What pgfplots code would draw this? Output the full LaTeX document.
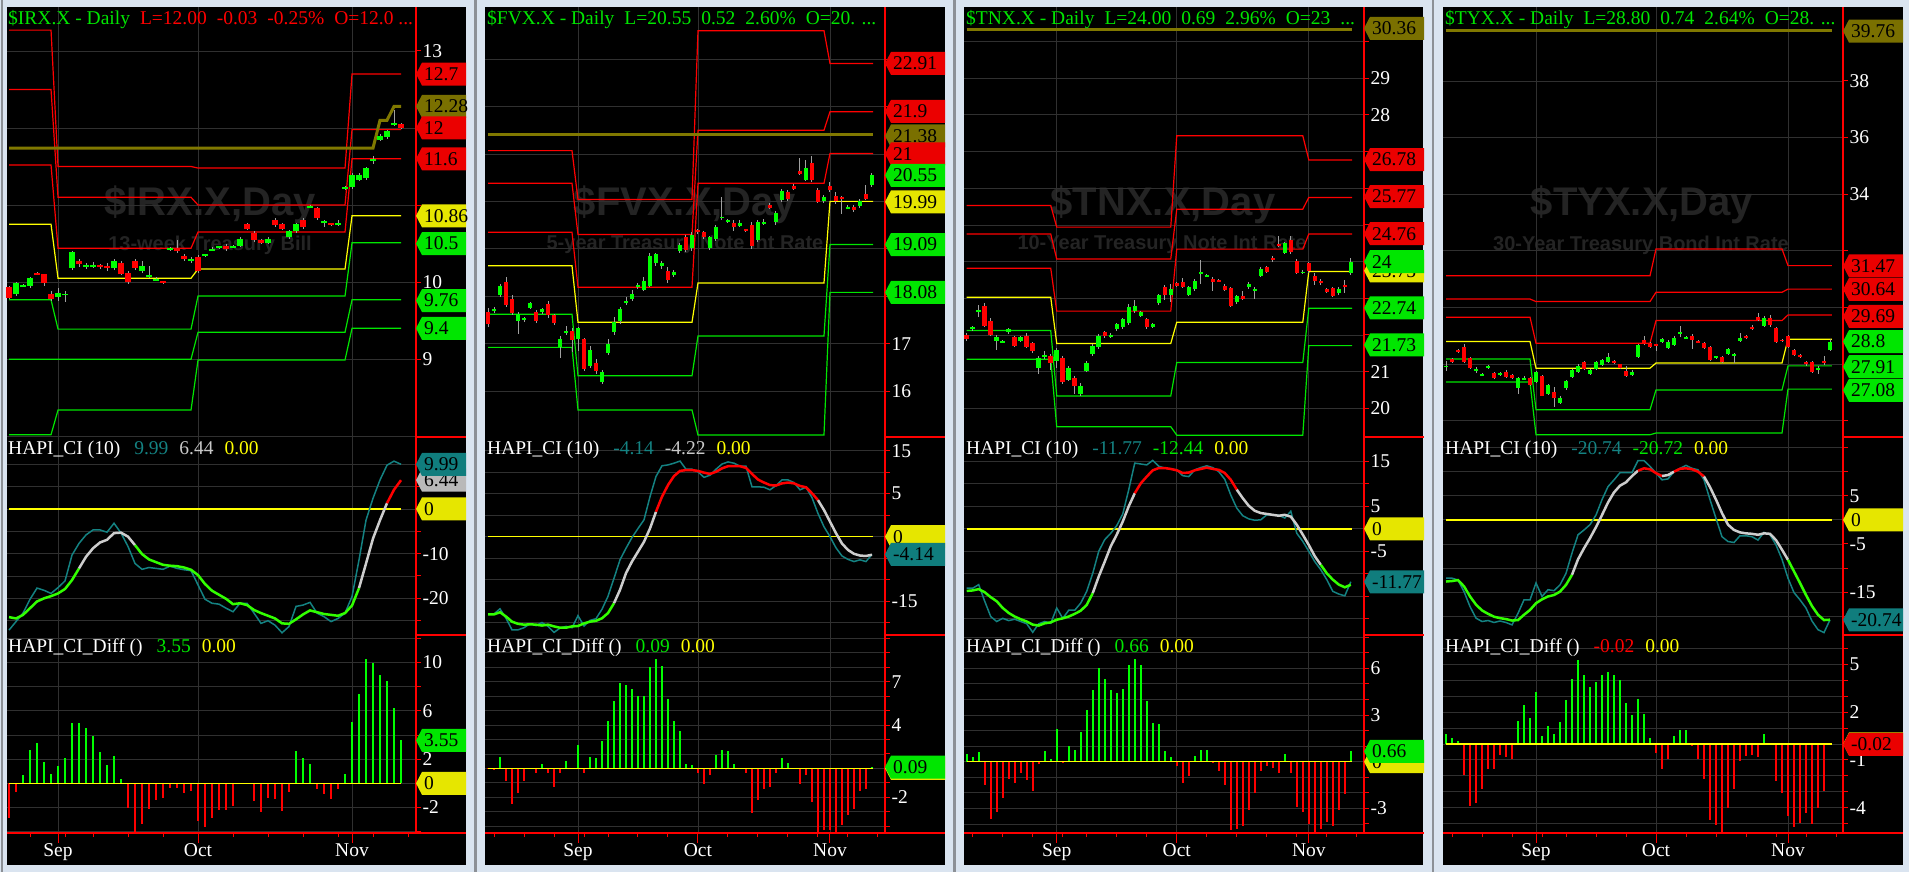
\documentclass[border=0pt]{standalone}
\usepackage{pgfplots}
\pgfplotsset{compat=1.18}
\usepackage{pgfplotstable}
\usepackage{fontspec}
\setmainfont{Liberation Serif}
\setsansfont{Liberation Sans}
\newcommand{\lab}{\fontsize{19.5bp}{22bp}\selectfont}
\newcommand{\wmA}{\fontsize{40bp}{44bp}\selectfont\sffamily\bfseries}
\newcommand{\wmB}{\fontsize{20bp}{24bp}\selectfont\sffamily\bfseries}
\definecolor{bgc}{RGB}{218,228,240}
\definecolor{sepc}{RGB}{140,144,150}
\definecolor{tred}{RGB}{255,0,0}
\definecolor{tgreen}{RGB}{0,230,0}
\definecolor{cgreen}{RGB}{0,255,0}
\definecolor{tyellow}{RGB}{255,255,0}
\definecolor{tolive}{RGB}{128,120,0}
\definecolor{tteal}{RGB}{20,130,130}
\definecolor{lgray}{RGB}{200,200,200}
\definecolor{gridc}{RGB}{48,48,48}
\definecolor{wmc}{RGB}{36,36,36}
\definecolor{wick}{RGB}{160,160,160}
\definecolor{tagred}{RGB}{235,0,0}
\definecolor{taggreen}{RGB}{0,230,0}
\definecolor{tagyellow}{RGB}{230,230,0}
\definecolor{tagolive}{RGB}{122,112,0}
\definecolor{tagteal}{RGB}{16,125,125}
\definecolor{taggray}{RGB}{185,185,185}
\definecolor{hgreen}{RGB}{50,255,0}
\definecolor{hgray}{RGB}{205,205,205}
\def\tw{44bp}\def\sw{50bp}
\newcommand{\ptag}[4]{%
 \fill[#3] (axis cs:#1,#2) -- ++(6bp,11.5bp) -- ++(\tw,0pt) -- ++(0pt,-23bp) -- ++(-\tw,0pt) -- cycle;
 \node[anchor=west,inner sep=0pt,text=black,font=\lab] at ([xshift=8bp]axis cs:#1,#2) {#4};}
\newcommand{\rline}{\draw[tred,line width=1.2bp] (rel axis cs:1,0) -- (rel axis cs:1,1);}
\pgfplotsset{
 hb/.style={scale only axis, anchor=south west, axis line style={draw=none}, tick align=outside,
   ytick pos=right, yticklabel pos=right, ymajorgrids=true, xmajorgrids=true,
   major grid style={draw=gridc, line width=0.8bp}, major tick length=5bp, minor tick length=4bp,
   tick style={draw=tred, line width=1bp},
   yticklabel style={font=\lab, text=white, inner sep=1.5bp}, clip=false},
 up/.style={xticklabels={}, major x tick style={draw=none}},
 dn/.style={xticklabels={Sep,Oct,Nov}, xtick pos=left, xticklabel style={font=\lab, text=white, yshift=-2bp}},
 pA/.style={xmin=-0.29, xmax=58.14, width=409bp, xtick={7,27,49}},
 pB/.style={xmin=-0.5, xmax=66.17, width=400bp, xtick={15,35,57}},
 pC/.style={xmin=-0.45, xmax=66.2, width=400bp, xtick={15,35,57}},
 wk/.style={draw=none, mark=none, error bars/.cd, y dir=both, y explicit, error mark=none, error bar style={draw=wick, line width=1bp}},
 bgn/.style={draw=none, mark=none, restrict expr to domain={\thisrow{c}-\thisrow{o}}{0:100}, error bars/.cd, y dir=both, y explicit, error mark=none, error bar style={draw=cgreen, line width=#1}},
 brd/.style={draw=none, mark=none, restrict expr to domain={\thisrow{c}-\thisrow{o}}{-100:0}, error bars/.cd, y dir=both, y explicit, error mark=none, error bar style={draw=tred, line width=#1}},
 band/.style={line width=1.2bp, #1},
 sm/.style={line width=2.5bp, #1},
}
% ---------------- data ----------------
\pgfplotstableread{
x o c h l
0 9.93 9.80 9.95 9.78
1 9.84 9.99 10.00 9.82
2 9.94 9.96 9.98 9.93
3 9.95 10.05 10.06 9.92
4 10.12 10.10 10.13 10.09
5 10.10 9.99 10.11 9.95
6 9.84 9.78 9.88 9.76
7 9.81 9.86 9.92 9.75
8 9.83 9.85 9.88 9.74
9 10.18 10.39 10.40 10.16
10 10.28 10.23 10.30 10.20
11 10.19 10.22 10.25 10.17
12 10.20 10.22 10.26 10.18
13 10.22 10.19 10.24 10.17
14 10.21 10.18 10.25 10.15
15 10.18 10.28 10.30 10.16
16 10.25 10.11 10.27 10.09
17 10.12 10.00 10.14 9.98
18 10.28 10.18 10.30 10.16
19 10.15 10.21 10.28 10.12
20 10.07 10.09 10.21 10.05
21 10.02 10.04 10.06 10.01
22 10.01 9.99 10.02 9.98
23 10.42 10.44 10.46 10.40
24 10.44 10.40 10.55 10.38
25 10.34 10.30 10.36 10.28
26 10.28 10.30 10.32 10.25
27 10.33 10.14 10.35 10.12
28 10.34 10.36 10.37 10.33
29 10.41 10.43 10.45 10.40
30 10.44 10.46 10.47 10.43
31 10.47 10.43 10.49 10.41
32 10.45 10.47 10.48 10.44
33 10.47 10.56 10.58 10.45
34 10.75 10.69 10.77 10.67
35 10.64 10.54 10.66 10.52
36 10.54 10.51 10.56 10.49
37 10.51 10.56 10.58 10.49
38 10.81 10.74 10.83 10.72
39 10.75 10.69 10.77 10.67
40 10.58 10.66 10.68 10.56
41 10.66 10.75 10.77 10.64
42 10.81 10.71 10.83 10.69
43 10.97 10.99 11.00 10.96
44 10.96 10.83 10.98 10.81
45 10.77 10.79 10.81 10.72
46 10.76 10.74 10.77 10.73
47 10.74 10.76 10.80 10.73
48 11.21 11.23 11.25 11.19
49 11.23 11.39 11.41 11.21
50 11.33 11.39 11.41 11.31
51 11.35 11.48 11.50 11.33
52 11.58 11.60 11.64 11.53
53 11.85 11.90 11.92 11.83
54 11.88 11.96 11.98 11.86
55 12.04 12.06 12.23 12.02
56 12.05 12.00 12.07 11.99
}\cA
\pgfplotstableread{
x o c h l
0 17.67 17.41 17.75 17.35
1 17.70 17.72 17.78 17.65
2 18.02 18.21 18.25 17.98
3 18.30 17.81 18.40 17.78
4 17.95 17.64 18.02 17.60
5 17.47 17.62 17.66 17.20
6 17.50 17.52 17.56 17.45
7 17.76 17.85 17.88 17.72
8 17.67 17.47 17.71 17.43
9 17.67 17.72 17.76 17.63
10 17.83 17.60 17.90 17.55
11 17.60 17.43 17.63 17.40
12 16.93 17.09 17.16 16.70
13 17.23 17.25 17.38 17.18
14 17.27 17.07 17.32 16.83
15 17.09 17.32 17.36 16.85
16 17.09 16.46 17.12 16.42
17 16.53 16.86 16.95 16.49
18 16.60 16.43 16.68 16.35
19 16.19 16.41 16.45 16.15
20 16.81 17.00 17.10 16.76
21 17.24 17.46 17.56 17.18
22 17.47 17.74 17.78 17.42
23 17.86 17.88 17.98 17.82
24 17.95 18.04 18.13 17.90
25 18.20 18.22 18.28 18.16
26 18.14 18.32 18.40 18.10
27 18.22 18.85 18.92 18.20
28 18.69 18.88 18.92 18.64
29 18.63 18.70 18.74 18.58
30 18.54 18.35 18.62 18.28
31 18.45 18.52 18.56 18.40
32 18.96 19.09 19.13 18.92
33 19.24 18.97 19.30 18.93
34 19.01 19.29 19.35 18.96
35 19.39 19.35 19.42 19.31
36 19.35 19.24 19.38 19.20
37 19.01 19.25 19.28 18.97
38 19.20 19.46 19.50 19.16
39 19.64 19.68 20.10 19.60
40 19.57 19.59 19.62 19.54
41 19.54 19.45 19.60 19.38
42 19.49 19.55 19.60 19.45
43 19.40 19.38 19.42 19.35
44 19.50 19.06 19.56 19.00
45 19.18 19.56 19.60 19.14
46 19.54 19.56 19.62 19.50
47 19.92 19.87 19.96 19.84
48 19.57 19.75 19.80 19.50
49 20.03 20.22 20.26 19.98
50 20.20 20.05 20.24 20.00
51 20.32 20.27 20.36 20.24
52 20.65 20.58 20.92 20.55
53 20.46 20.70 20.88 20.42
54 20.80 20.45 20.96 20.40
55 20.25 19.99 20.28 19.96
56 20.00 20.10 20.13 19.97
57 20.33 20.24 20.40 20.20
58 20.12 20.00 20.20 19.95
59 20.08 20.06 20.12 19.74
60 19.86 19.88 19.92 19.83
61 19.88 19.82 19.92 19.78
62 19.90 20.00 20.04 19.86
63 20.15 20.05 20.35 20.02
64 20.34 20.55 20.60 20.31
}\cB
\pgfplotstableread{
x o c h l
0 22.00 21.88 22.06 21.84
1 22.17 22.19 22.25 22.12
2 22.64 22.66 22.82 22.48
3 22.79 22.25 22.88 22.22
4 22.39 22.00 22.45 21.96
5 21.84 21.94 22.00 21.60
6 21.81 21.83 21.87 21.78
7 22.07 22.15 22.18 22.03
8 21.95 21.71 21.98 21.68
9 21.84 21.94 21.97 21.80
10 21.97 21.68 22.05 21.64
11 21.77 21.57 21.80 21.52
12 21.11 21.36 21.42 20.95
13 21.41 21.43 21.56 21.35
14 21.43 21.23 21.47 21.05
15 21.29 21.59 21.65 21.10
16 21.38 20.71 21.42 20.66
17 20.77 21.09 21.15 20.74
18 20.83 20.62 20.88 20.38
19 20.38 20.62 20.70 20.35
20 21.03 21.25 21.30 20.98
21 21.47 21.71 21.76 21.42
22 21.66 21.97 22.03 21.62
23 22.07 21.97 22.12 21.93
24 21.95 22.01 22.05 21.91
25 22.16 22.30 22.34 22.12
26 22.21 22.43 22.47 22.16
27 22.33 22.77 22.85 22.28
28 22.65 22.79 22.95 22.60
29 22.53 22.62 22.66 22.49
30 22.43 22.21 22.47 22.15
31 22.23 22.30 22.34 22.18
32 22.86 23.09 23.13 22.82
33 23.30 23.09 23.36 22.95
34 23.09 23.26 23.40 22.90
35 23.41 23.34 23.45 23.30
36 23.45 23.32 23.55 23.28
37 23.09 23.30 23.34 23.05
38 23.25 23.48 23.52 23.20
39 23.67 23.69 24.05 23.40
40 23.60 23.62 23.65 23.57
41 23.53 23.44 23.58 23.20
42 23.49 23.47 23.52 23.44
43 23.34 23.23 23.38 23.19
44 23.27 22.80 23.30 22.76
45 22.89 23.07 23.10 22.85
46 23.07 22.98 23.20 22.95
47 23.30 23.39 23.45 23.26
48 23.21 23.23 23.30 22.98
49 23.62 23.80 23.84 23.58
50 23.84 23.73 23.88 23.68
51 24.08 24.06 24.15 24.00
52 24.46 24.44 24.70 24.40
53 24.23 24.50 24.54 24.20
54 24.59 24.25 24.70 24.20
55 24.03 23.68 24.07 23.65
56 23.68 23.73 23.77 23.65
57 23.95 23.75 24.00 23.70
58 23.62 23.47 23.68 23.35
59 23.48 23.41 23.52 23.37
60 23.25 23.18 23.28 23.15
61 23.27 23.07 23.30 23.04
62 23.14 23.26 23.30 23.10
63 23.35 23.33 23.50 23.15
64 23.68 24.00 24.10 23.64
}\cC
\pgfplotstableread{
x o c h l
0 27.91 27.93 28.10 27.75
1 28.18 28.07 28.22 28.03
2 28.51 28.43 28.55 28.40
3 28.62 28.09 28.72 28.05
4 28.21 27.86 28.25 27.82
5 27.79 27.81 27.90 27.70
6 27.62 27.64 27.68 27.58
7 27.86 27.92 27.96 27.82
8 27.70 27.51 27.74 27.47
9 27.62 27.70 27.74 27.58
10 27.74 27.55 27.78 27.51
11 27.63 27.51 27.66 27.48
12 27.15 27.51 27.55 26.95
13 27.48 27.50 27.60 27.44
14 27.53 27.27 27.56 27.23
15 27.37 27.72 27.75 27.33
16 27.60 26.89 27.63 26.86
17 26.94 27.25 27.30 26.91
18 27.01 26.80 27.18 26.50
19 26.62 26.82 26.86 26.58
20 27.15 27.39 27.45 27.10
21 27.54 27.78 27.82 27.50
22 27.72 27.95 27.99 27.68
23 28.07 27.83 28.11 27.79
24 27.67 27.78 27.82 27.63
25 27.83 28.07 28.11 27.80
26 27.98 28.15 28.19 27.94
27 28.09 28.25 28.40 28.05
28 28.12 28.04 28.16 28.00
29 27.99 27.86 28.02 27.82
30 27.76 27.60 27.92 27.56
31 27.62 27.74 27.78 27.58
32 28.27 28.68 28.72 28.23
33 28.86 28.72 29.00 28.68
34 28.74 28.60 28.78 28.56
35 28.69 28.67 28.72 28.45
36 28.78 28.88 28.92 28.74
37 28.56 28.80 28.84 28.52
38 28.68 28.94 28.98 28.64
39 29.09 29.11 29.35 28.95
40 28.93 28.95 28.98 28.90
41 28.99 28.86 29.05 28.55
42 28.81 28.79 28.84 28.76
43 28.74 28.56 28.78 28.52
44 28.60 28.15 28.64 28.11
45 28.24 28.26 28.30 28.20
46 28.25 28.07 28.28 28.03
47 28.37 28.53 28.56 28.33
48 28.32 28.34 28.40 28.05
49 28.83 28.94 29.10 28.80
50 29.00 28.92 29.04 28.88
51 29.28 29.26 29.40 29.20
52 29.65 29.56 29.80 29.53
53 29.34 29.63 29.70 29.30
54 29.63 29.37 29.75 29.30
55 29.27 28.80 29.31 28.76
56 28.85 28.83 28.88 28.80
57 28.98 28.62 29.02 28.58
58 28.51 28.33 28.55 28.30
59 28.33 28.25 28.36 28.22
60 28.09 27.99 28.12 27.95
61 28.07 27.72 28.10 27.68
62 27.78 27.88 27.92 27.65
63 28.10 28.08 28.30 27.98
64 28.51 28.80 28.88 28.47
}\cD
\pgfplotstableread{
x t s d
0 -27.1 -24.2 -2.9
1 -25.2 -24.5 -0.7
2 -23.3 -23.7 0.7
3 -20.2 -22.2 2.8
4 -17.7 -20.7 3.3
5 -18.2 -20.0 1.8
6 -18.9 -19.5 0.8
7 -17.6 -18.9 1.4
8 -16.1 -17.9 2.1
9 -10.3 -15.9 5.0
10 -7.7 -13.3 5.0
11 -5.8 -10.7 4.6
12 -4.7 -8.8 3.9
13 -4.7 -7.5 2.6
14 -5.2 -6.9 1.5
15 -3.2 -5.4 2.3
16 -5.4 -5.3 0.4
17 -8.4 -6.2 -2.0
18 -12.2 -8.1 -4.0
19 -13.5 -10.1 -3.4
20 -13.1 -11.3 -2.1
21 -13.3 -11.9 -1.4
22 -13.5 -12.5 -1.2
23 -12.8 -12.7 -0.4
24 -13.3 -12.8 -0.4
25 -13.6 -13.1 -0.8
26 -13.8 -13.6 -0.6
27 -17.0 -14.8 -3.1
28 -20.2 -16.8 -3.6
29 -21.1 -18.3 -2.9
30 -21.3 -19.2 -2.2
31 -22.2 -20.1 -2.2
32 -23.0 -21.3 -1.9
33 -21.1 -21.1 0.05
34 -21.1 -21.5 0.05
35 -23.3 -22.6 -1.5
36 -25.6 -23.3 -2.4
37 -25.0 -23.9 -1.2
38 -26.0 -24.5 -1.3
39 -27.7 -25.6 -2.3
40 -26.3 -25.7 -0.7
41 -21.8 -24.7 2.7
42 -21.5 -23.6 2.1
43 -20.9 -22.7 1.6
44 -23.3 -23.1 -0.5
45 -24.1 -23.5 -0.9
46 -25.2 -23.7 -1.3
47 -24.5 -23.9 -0.5
48 -23.3 -23.3 0.8
49 -19.6 -21.6 5.1
50 -11.4 -17.7 7.4
51 -2.5 -12.2 10.3
52 2.4 -6.6 10.0
53 6.5 -2.5 9.0
54 9.8 1.3 8.5
55 10.7 4.3 6.2
56 9.99 6.44 3.55
}\hA
\pgfplotstableread{
x t s d
0 -18.0 -18.1 -0.05
1 -18.0 -18.1 -0.1
2 -16.8 -17.6 0.8
3 -19.0 -18.6 -0.85
4 -21.7 -19.8 -2.5
5 -21.7 -20.3 -1.7
6 -21.2 -20.5 -0.85
7 -20.3 -20.4 0.05
8 -20.7 -20.5 -0.3
9 -20.0 -20.7 0.3
10 -20.9 -20.5 -0.3
11 -22.3 -20.9 -1.3
12 -21.3 -21.2 -0.3
13 -20.9 -21.2 0.5
14 -21.2 -20.9 -0.05
15 -18.4 -20.8 1.6
16 -20.8 -20.2 -0.35
17 -19.5 -19.8 0.8
18 -19.1 -19.6 0.75
19 -16.9 -19.0 1.9
20 -13.9 -17.8 3.3
21 -9.7 -15.5 4.7
22 -5.4 -12.4 5.9
23 -2.7 -8.5 5.8
24 -0.2 -5.8 5.5
25 1.9 -3.5 5.0
26 3.9 -1.2 5.0
27 9.3 1.9 7.0
28 14.0 5.8 7.6
29 16.5 9.3 7.1
30 16.7 12.0 4.8
31 17.1 14.1 3.3
32 17.6 15.3 2.6
33 15.7 15.5 0.3
34 15.7 15.5 0.2
35 15.1 15.3 -0.3
36 13.8 14.9 -1.1
37 14.3 14.6 -0.45
38 15.7 15.1 0.9
39 16.9 15.9 1.3
40 17.4 16.4 1.2
41 17.1 16.4 0.3
42 16.4 16.4 0.05
43 16.4 16.0 -0.35
44 11.6 14.6 -3.1
45 11.6 13.3 -2.2
46 11.5 12.6 -1.45
47 10.9 12.0 -1.3
48 11.9 11.9 -0.35
49 13.2 12.4 0.75
50 13.2 12.6 0.35
51 12.6 12.4 -0.05
52 10.9 11.8 -1.1
53 11.5 11.5 -0.45
54 9.1 10.1 -2.3
55 5.4 8.5 -4.4
56 2.3 6.2 -4.3
57 0.0 3.5 -4.3
58 -2.6 0.8 -4.4
59 -4.5 -1.6 -3.9
60 -5.3 -3.1 -3.2
61 -5.8 -4.0 -2.8
62 -5.4 -4.4 -1.6
63 -5.8 -4.5 -1.45
64 -4.14 -4.22 0.09
}\hB
\pgfplotstableread{
x t s d
0 -13.2 -13.8 0.5
1 -13.2 -13.7 0.3
2 -12.4 -13.4 0.6
3 -16.1 -14.1 -1.5
4 -19.5 -15.2 -3.7
5 -20.6 -16.1 -3.2
6 -19.9 -17.6 -2.3
7 -20.4 -18.7 -1.1
8 -20.1 -19.5 -1.4
9 -20.6 -20.1 -0.7
10 -21.1 -20.6 -1.2
11 -23.0 -21.3 -1.9
12 -21.1 -21.5 -0.15
13 -20.6 -21.0 0.7
14 -21.0 -20.8 0.15
15 -17.6 -20.2 2.1
16 -19.9 -19.9 -0.05
17 -18.1 -19.5 1.0
18 -18.1 -18.9 0.75
19 -16.5 -18.2 1.9
20 -13.9 -16.9 3.3
21 -9.9 -14.3 4.6
22 -5.0 -10.6 6.0
23 -2.4 -7.3 5.3
24 -1.0 -3.9 4.6
25 0.7 -1.3 4.4
26 3.3 1.6 4.7
27 8.7 5.0 6.2
28 14.6 7.9 6.6
29 14.4 10.1 6.2
30 14.2 11.6 3.9
31 15.2 13.0 2.5
32 13.9 13.5 2.4
33 13.5 13.5 0.7
34 13.3 13.3 0.3
35 13.1 13.0 -0.25
36 11.8 12.4 -1.35
37 11.6 12.5 -0.9
38 13.1 13.0 0.35
39 13.6 13.3 0.75
40 14.0 13.6 0.75
41 13.6 13.3 -0.05
42 12.7 13.1 -0.6
43 11.0 12.4 -1.5
44 7.5 10.9 -4.4
45 4.6 8.7 -4.3
46 2.9 6.8 -4.1
47 2.2 5.1 -3.1
48 1.9 4.0 -2.0
49 2.0 3.5 -0.6
50 3.1 3.3 -0.3
51 3.1 3.1 -0.4
52 3.0 2.9 -0.75
53 2.4 3.1 0.5
54 3.9 2.7 -0.7
55 -1.0 0.9 -2.9
56 -2.8 -1.3 -3.2
57 -5.0 -3.6 -4.0
58 -7.3 -6.1 -4.5
59 -9.1 -8.0 -4.3
60 -11.3 -9.9 -3.9
61 -13.9 -11.3 -4.1
62 -14.5 -12.4 -3.1
63 -14.9 -13.0 -2.1
64 -11.77 -12.44 0.66
}\hC
\pgfplotstableread{
x t s d
0 -12.1 -12.8 0.6
1 -12.1 -12.7 0.35
2 -12.5 -12.5 0.2
3 -14.9 -13.8 -1.95
4 -18.0 -15.9 -3.9
5 -20.4 -17.6 -3.7
6 -21.1 -18.8 -2.85
7 -20.9 -19.5 -1.6
8 -21.3 -20.1 -1.6
9 -21.0 -20.4 -0.7
10 -21.3 -20.6 -0.8
11 -21.8 -20.9 -0.95
12 -19.4 -20.8 1.45
13 -16.6 -19.7 2.45
14 -16.6 -18.7 1.65
15 -13.1 -17.3 3.25
16 -15.9 -16.5 0.5
17 -14.5 -15.9 1.1
18 -14.7 -15.6 0.6
19 -13.5 -14.9 1.35
20 -11.1 -13.5 2.75
21 -6.9 -11.4 4.1
22 -3.1 -8.2 5.3
23 -2.1 -5.9 4.3
24 -1.0 -3.8 3.6
25 1.0 -1.5 3.9
26 4.2 1.0 4.3
27 6.9 3.6 4.5
28 8.3 5.7 4.3
29 9.8 7.1 4.0
30 9.8 7.8 2.55
31 9.8 9.1 1.8
32 12.3 10.2 2.8
33 12.3 10.7 1.9
34 11.1 10.5 0.35
35 9.7 9.7 -0.55
36 8.3 9.1 -1.55
37 8.5 9.3 -0.95
38 10.0 10.0 0.5
39 10.7 10.6 0.9
40 11.3 10.7 0.9
41 10.7 10.5 -0.15
42 10.4 10.0 -0.95
43 8.3 9.0 -2.2
44 4.2 6.8 -4.8
45 0.3 4.2 -5.1
46 -3.5 1.4 -5.5
47 -4.5 -1.0 -4.0
48 -4.7 -2.1 -2.85
49 -3.3 -2.6 -1.1
50 -3.3 -2.8 -0.75
51 -3.5 -2.9 -0.7
52 -4.2 -3.1 -0.85
53 -2.6 -2.8 0.6
54 -3.1 -2.9 0.05
55 -5.2 -4.2 -2.35
56 -8.2 -6.2 -3.1
57 -12.1 -8.3 -4.55
58 -15.1 -10.7 -5.2
59 -16.6 -13.1 -4.95
60 -18.3 -15.6 -4.35
61 -21.0 -17.9 -5.0
62 -22.8 -19.7 -4.05
63 -23.4 -20.8 -2.95
64 -20.74 -20.72 -0.02
}\hD
\begin{document}
\begin{tikzpicture}
\fill[bgc] (0bp,0bp) rectangle (1909bp,872bp);
\fill[sepc] (474.25bp,0bp) rectangle (476.75bp,872bp);
\fill[sepc] (953.25bp,0bp) rectangle (955.75bp,872bp);
\fill[sepc] (1431.75bp,0bp) rectangle (1434.25bp,872bp);
\fill[sepc] (1.25bp,0bp) rectangle (2.75bp,872bp);
\fill[black] (7bp,7bp) rectangle (466bp,865bp);
\fill[black] (485bp,7bp) rectangle (945bp,865bp);
\fill[black] (964bp,7bp) rectangle (1423bp,865bp);
\fill[black] (1443bp,7bp) rectangle (1903bp,865bp);
\node[font=\wmA,text=wmc] at (210bp,667bp) {\$IRX.X,Day};
\node[font=\wmB,text=wmc] at (210bp,627bp) {13-week Treasury Bill};
\node[font=\wmA,text=wmc] at (685bp,667bp) {\$FVX.X,Day};
\node[font=\wmB,text=wmc] at (685bp,627bp) {5-year Treasury Note Int Rate};
\node[font=\wmA,text=wmc] at (1163bp,667bp) {\$TNX.X,Day};
\node[font=\wmB,text=wmc] at (1162bp,627bp) {10-Year Treasury Note Int Rate};
\node[font=\wmA,text=wmc] at (1642bp,667bp) {\$TYX.X,Day};
\node[font=\wmB,text=wmc] at (1641bp,627bp) {30-Year Treasury Bond Int Rate};

% ================= PANEL 1 =================
\def\tw{44bp}\def\sw{50bp}
\begin{axis}[hb, up, pA, at={(7bp,435bp)}, height=430bp, ymin=7.99, ymax=13.57,
  ytick={8,9,10,11,12,13}, yticklabels={,9,10,,,13}]
\addplot[band=tred] coordinates {(0,13.27)(6,13.27)(7,11.50)(26,11.50)(27,11.48)(48,11.48)(49,12.70)(56,12.70)};
\addplot[band=tred] coordinates {(0,12.50)(6,12.50)(7,11.10)(26,11.10)(27,11.00)(48,11.00)(49,11.98)(56,11.98)};
\addplot[band=tred] coordinates {(0,11.52)(6,11.52)(7,10.44)(26,10.44)(27,10.65)(48,10.65)(49,11.60)(56,11.60)};
\addplot[band=tyellow] coordinates {(0,10.75)(6,10.75)(7,10.05)(26,10.05)(27,10.17)(48,10.17)(49,10.86)(56,10.86)};
\addplot[band=tgreen] coordinates {(0,9.77)(6,9.77)(7,9.39)(26,9.39)(27,9.82)(48,9.82)(49,10.51)(56,10.51)};
\addplot[band=tgreen] coordinates {(0,9.00)(6,9.00)(7,9.00)(26,9.00)(27,9.35)(48,9.35)(49,9.77)(56,9.77)};
\addplot[band=tgreen] coordinates {(0,8.02)(6,8.02)(7,8.34)(26,8.34)(27,8.99)(48,8.99)(49,9.40)(56,9.40)};
\addplot[tolive, line width=3bp] coordinates {(0,11.74)(52,11.74)(53,12.10)(54,12.10)(55,12.28)(56,12.28)};
\addplot[wk] table[x=x, y expr={(\thisrow{h}+\thisrow{l})/2}, y error expr={(\thisrow{h}-\thisrow{l})/2}] {\cA};
\addplot[bgn=5.5bp] table[x=x, y expr={(\thisrow{o}+\thisrow{c})/2}, y error expr={max(abs(\thisrow{c}-\thisrow{o})/2,0.012)}] {\cA};
\addplot[brd=5.5bp] table[x=x, y expr={(\thisrow{o}+\thisrow{c})/2}, y error expr={max(abs(\thisrow{c}-\thisrow{o})/2,0.012)}] {\cA};
\rline
\ptag{58.14}{12.28}{tagolive}{12.28}
\ptag{58.14}{12.7}{tagred}{12.7}
\ptag{58.14}{12}{tagred}{12}
\ptag{58.14}{11.6}{tagred}{11.6}
\ptag{58.14}{10.86}{tagyellow}{10.86}
\ptag{58.14}{10.5}{taggreen}{10.5}
\ptag{58.14}{9.76}{taggreen}{9.76}
\ptag{58.14}{9.4}{taggreen}{9.4}
\end{axis}
\begin{axis}[hb, up, pA, at={(7bp,237bp)}, height=198bp, ymin=-28.2, ymax=16.1,
  ytick={-25,-20,...,10}, yticklabels={,-20,,-10,,,,}]
\addplot[tyellow, line width=1.5bp] coordinates {(0,0)(56,0)};
\addplot[tteal, line width=1.5bp] table[x=x,y=t] {\hA};
\addplot[sm=hgreen, restrict x to domain=0:10] table[x=x,y=s] {\hA};
\addplot[sm=hgray, restrict x to domain=10:18] table[x=x,y=s] {\hA};
\addplot[sm=hgreen, restrict x to domain=18:50] table[x=x,y=s] {\hA};
\addplot[sm=hgray, restrict x to domain=50:54] table[x=x,y=s] {\hA};
\addplot[sm=tred, restrict x to domain=54:56] table[x=x,y=s] {\hA};
\rline
\draw[tred,line width=1.2bp] (rel axis cs:1,1) -- ++(\sw,0pt);
\draw[tred,line width=1.2bp] (rel axis cs:1,0) -- ++(\sw,0pt);
\ptag{58.14}{6.44}{taggray}{6.44}
\ptag{58.14}{9.99}{tagteal}{9.99}
\ptag{58.14}{0}{tagyellow}{0}
\end{axis}
\begin{axis}[hb, dn, pA, at={(7bp,39bp)}, height=198bp, ymin=-4.11, ymax=12.28,
  ytick={-4,-2,...,12}, yticklabels={,-2,,2,,6,,10,},
  minor xtick={3,8,12,17,22,32,37,42,47,52,57}]
\addplot[ycomb, cgreen, line width=2bp, restrict y to domain=0:100] table[x=x,y=d] {\hA};
\addplot[ycomb, tred, line width=2bp, restrict y to domain=-100:0] table[x=x,y=d] {\hA};
\addplot[tyellow, line width=1.5bp] coordinates {(0,0)(56,0)};
\rline
\draw[tred,line width=1.2bp] (rel axis cs:0,0) -- (rel axis cs:1,0) -- ++(\sw,0pt);
\draw[tred,line width=1bp] (axis cs:7,-4.11) -- ++(0pt,-10bp);
\draw[tred,line width=1bp] (axis cs:27,-4.11) -- ++(0pt,-10bp);
\draw[tred,line width=1bp] (axis cs:49,-4.11) -- ++(0pt,-10bp);
\ptag{58.14}{3.55}{taggreen}{3.55}
\ptag{58.14}{0}{tagyellow}{0}
\end{axis}

% ================= PANEL 2 =================
\def\tw{54bp}\def\sw{60bp}
\begin{axis}[hb, up, pB, at={(485bp,435bp)}, height=430bp, ymin=15.03, ymax=24.10,
  ytick={16,...,23}, yticklabels={16,17,,,,,,}]
\addplot[band=tred] coordinates {(0,21.07)(14,21.07)(15,20.04)(34,20.04)(35,23.60)(56,23.60)(57,22.91)(64.2,22.91)};
\addplot[band=tred] coordinates {(0,20.38)(14,20.38)(15,19.30)(34,19.30)(35,21.50)(56,21.50)(57,21.89)(64.2,21.89)};
\addplot[band=tred] coordinates {(0,19.35)(14,19.35)(15,18.19)(34,18.19)(35,20.38)(56,20.38)(57,21.01)(64.2,21.01)};
\addplot[band=tyellow] coordinates {(0,18.64)(14,18.64)(15,17.45)(34,17.45)(35,18.28)(56,18.28)(57,20.00)(64.2,20.00)};
\addplot[band=tgreen] coordinates {(0,17.62)(14,17.62)(15,16.32)(34,16.32)(35,17.16)(56,17.16)(57,19.09)(64.2,19.09)};
\addplot[band=tgreen] coordinates {(0,16.92)(14,16.92)(15,15.60)(34,15.60)(35,15.07)(56,15.07)(57,18.08)(64.2,18.08)};
\addplot[tolive, line width=3bp] coordinates {(0,21.40)(64.2,21.40)};
\addplot[wk] table[x=x, y expr={(\thisrow{h}+\thisrow{l})/2}, y error expr={(\thisrow{h}-\thisrow{l})/2}] {\cB};
\addplot[bgn=4.5bp] table[x=x, y expr={(\thisrow{o}+\thisrow{c})/2}, y error expr={max(abs(\thisrow{c}-\thisrow{o})/2,0.02)}] {\cB};
\addplot[brd=4.5bp] table[x=x, y expr={(\thisrow{o}+\thisrow{c})/2}, y error expr={max(abs(\thisrow{c}-\thisrow{o})/2,0.02)}] {\cB};
\rline
\ptag{66.17}{22.91}{tagred}{22.91}
\ptag{66.17}{21.9}{tagred}{21.9}
\ptag{66.17}{21.38}{tagolive}{21.38}
\ptag{66.17}{21}{tagred}{21}
\ptag{66.17}{20.55}{taggreen}{20.55}
\ptag{66.17}{19.99}{tagyellow}{19.99}
\ptag{66.17}{19.09}{taggreen}{19.09}
\ptag{66.17}{18.08}{taggreen}{18.08}
\end{axis}
\begin{axis}[hb, up, pB, at={(485bp,237bp)}, height=198bp, ymin=-22.9, ymax=23.2,
  ytick={-20,-15,...,20}, yticklabels={,-15,,,,,5,,15,}]
\addplot[tyellow, line width=1.5bp] coordinates {(0,0)(64.2,0)};
\addplot[tteal, line width=1.5bp] table[x=x,y=t] {\hB};
\addplot[sm=hgreen, restrict x to domain=0:21] table[x=x,y=s] {\hB};
\addplot[sm=hgray, restrict x to domain=21:28] table[x=x,y=s] {\hB};
\addplot[sm=tred, restrict x to domain=28:55] table[x=x,y=s] {\hB};
\addplot[sm=hgray, restrict x to domain=55:64] table[x=x,y=s] {\hB};
\rline
\draw[tred,line width=1.2bp] (rel axis cs:1,1) -- ++(\sw,0pt);
\draw[tred,line width=1.2bp] (rel axis cs:1,0) -- ++(\sw,0pt);
\ptag{66.17}{0}{tagyellow}{0}
\ptag{66.17}{-4.14}{tagteal}{-4.14}
\end{axis}
\begin{axis}[hb, dn, pB, at={(485bp,39bp)}, height=198bp, ymin=-4.48, ymax=9.24,
  ytick={-4,...,9}, yticklabels={,,-2,,,,,4,,,7,,,},
  minor xtick={1,6,11,16,20,25,30,40,45,50,55,60,65}]
\addplot[ycomb, cgreen, line width=2bp, restrict y to domain=0:100] table[x=x,y=d] {\hB};
\addplot[ycomb, tred, line width=2bp, restrict y to domain=-100:0] table[x=x,y=d] {\hB};
\addplot[tyellow, line width=1.5bp] coordinates {(0,0)(64.2,0)};
\rline
\draw[tred,line width=1.2bp] (rel axis cs:0,0) -- (rel axis cs:1,0) -- ++(\sw,0pt);
\draw[tred,line width=1bp] (axis cs:15,-4.48) -- ++(0pt,-10bp);
\draw[tred,line width=1bp] (axis cs:35,-4.48) -- ++(0pt,-10bp);
\draw[tred,line width=1bp] (axis cs:57,-4.48) -- ++(0pt,-10bp);
\ptag{66.17}{0}{tagyellow}{0}
\ptag{66.17}{0.09}{taggreen}{0.09}
\end{axis}

% ================= PANEL 3 =================
\begin{axis}[hb, up, pC, at={(964bp,435bp)}, height=430bp, ymin=19.22, ymax=30.94,
  ytick={20,...,30}, yticklabels={20,21,,,,,,,28,29,}]
\addplot[band=tred] coordinates {(0,25.53)(14,25.53)(15,24.94)(34,24.94)(35,27.43)(56,27.43)(57,26.77)(64.2,26.77)};
\addplot[band=tred] coordinates {(0,24.75)(14,24.75)(15,24.07)(34,24.07)(35,25.43)(56,25.43)(57,25.75)(64.2,25.75)};
\addplot[band=tred] coordinates {(0,23.82)(14,23.82)(15,22.65)(34,22.65)(35,24.34)(56,24.34)(57,24.75)(64.2,24.75)};
\addplot[band=tyellow] coordinates {(0,23.03)(14,23.03)(15,21.77)(34,21.77)(35,22.35)(56,22.35)(57,23.73)(64.2,23.73)};
\addplot[band=tgreen] coordinates {(0,22.12)(14,22.12)(15,20.34)(34,20.34)(35,21.25)(56,21.25)(57,22.73)(64.2,22.73)};
\addplot[band=tgreen] coordinates {(0,21.34)(14,21.34)(15,19.50)(34,19.50)(35,19.27)(56,19.27)(57,21.71)(64.2,21.71)};
\addplot[tolive, line width=3bp] coordinates {(0,30.32)(64.2,30.32)};
\addplot[wk] table[x=x, y expr={(\thisrow{h}+\thisrow{l})/2}, y error expr={(\thisrow{h}-\thisrow{l})/2}] {\cC};
\addplot[bgn=4.5bp] table[x=x, y expr={(\thisrow{o}+\thisrow{c})/2}, y error expr={max(abs(\thisrow{c}-\thisrow{o})/2,0.025)}] {\cC};
\addplot[brd=4.5bp] table[x=x, y expr={(\thisrow{o}+\thisrow{c})/2}, y error expr={max(abs(\thisrow{c}-\thisrow{o})/2,0.025)}] {\cC};
\rline
\ptag{66.2}{30.36}{tagolive}{30.36}
\ptag{66.2}{26.78}{tagred}{26.78}
\ptag{66.2}{25.77}{tagred}{25.77}
\ptag{66.2}{24.76}{tagred}{24.76}
\ptag{66.2}{23.75}{tagyellow}{23.75}
\ptag{66.2}{24}{taggreen}{24}
\ptag{66.2}{22.74}{taggreen}{22.74}
\ptag{66.2}{21.73}{taggreen}{21.73}
\end{axis}
\begin{axis}[hb, up, pC, at={(964bp,237bp)}, height=198bp, ymin=-23.6, ymax=20.4,
  ytick={-20,-15,...,15}, yticklabels={,,,-5,,5,,15}]
\addplot[tyellow, line width=1.5bp] coordinates {(0,0)(64.2,0)};
\addplot[tteal, line width=1.5bp] table[x=x,y=t] {\hC};
\addplot[sm=hgreen, restrict x to domain=0:21] table[x=x,y=s] {\hC};
\addplot[sm=hgray, restrict x to domain=21:28] table[x=x,y=s] {\hC};
\addplot[sm=tred, restrict x to domain=28:45] table[x=x,y=s] {\hC};
\addplot[sm=hgray, restrict x to domain=45:59] table[x=x,y=s] {\hC};
\addplot[sm=hgreen, restrict x to domain=59:64] table[x=x,y=s] {\hC};
\rline
\draw[tred,line width=1.2bp] (rel axis cs:1,1) -- ++(\sw,0pt);
\draw[tred,line width=1.2bp] (rel axis cs:1,0) -- ++(\sw,0pt);
\ptag{66.2}{0}{tagyellow}{0}
\ptag{66.2}{-11.77}{tagteal}{-11.77}
\end{axis}
\begin{axis}[hb, dn, pC, at={(964bp,39bp)}, height=198bp, ymin=-4.58, ymax=8.14,
  ytick={-4,...,8}, yticklabels={,-3,,,,,,3,,,6,,},
  minor xtick={1,6,11,16,20,25,30,40,45,50,55,60,65}]
\addplot[ycomb, cgreen, line width=2bp, restrict y to domain=0:100] table[x=x,y=d] {\hC};
\addplot[ycomb, tred, line width=2bp, restrict y to domain=-100:0] table[x=x,y=d] {\hC};
\addplot[tyellow, line width=1.5bp] coordinates {(0,0)(64.2,0)};
\rline
\draw[tred,line width=1.2bp] (rel axis cs:0,0) -- (rel axis cs:1,0) -- ++(\sw,0pt);
\draw[tred,line width=1bp] (axis cs:15,-4.58) -- ++(0pt,-10bp);
\draw[tred,line width=1bp] (axis cs:35,-4.58) -- ++(0pt,-10bp);
\draw[tred,line width=1bp] (axis cs:57,-4.58) -- ++(0pt,-10bp);
\ptag{66.2}{0}{tagyellow}{0}
\ptag{66.2}{0.66}{taggreen}{0.66}
\end{axis}

% ================= PANEL 4 =================
\begin{axis}[hb, up, pB, at={(1443bp,435bp)}, height=430bp, ymin=25.43, ymax=40.61,
  ytick={26,28,...,38}, yticklabels={,,,,34,36,38}]
\addplot[band=tred] coordinates {(0,31.12)(14,31.12)(15,31.12)(34,31.12)(35,32.07)(56,32.07)(57,31.48)(64.3,31.48)};
\addplot[band=tred] coordinates {(0,30.30)(14,30.30)(15,30.21)(34,30.21)(35,30.54)(56,30.54)(57,30.65)(64.3,30.65)};
\addplot[band=tred] coordinates {(0,29.66)(14,29.66)(15,28.74)(34,28.74)(35,29.54)(56,29.54)(57,29.74)(64.3,29.74)};
\addplot[band=tyellow] coordinates {(0,28.80)(14,28.80)(15,27.86)(34,27.86)(35,28.04)(56,28.04)(57,28.88)(64.3,28.88)};
\addplot[band=tgreen] coordinates {(0,28.18)(14,28.18)(15,26.39)(34,26.39)(35,27.09)(56,27.09)(57,27.94)(64.3,27.94)};
\addplot[band=tgreen] coordinates {(0,27.37)(14,27.37)(15,25.51)(34,25.51)(35,25.57)(56,25.57)(57,27.12)(64.3,27.12)};
\addplot[tolive, line width=3bp] coordinates {(0,39.78)(64.3,39.78)};
\addplot[wk] table[x=x, y expr={(\thisrow{h}+\thisrow{l})/2}, y error expr={(\thisrow{h}-\thisrow{l})/2}] {\cD};
\addplot[bgn=4.5bp] table[x=x, y expr={(\thisrow{o}+\thisrow{c})/2}, y error expr={max(abs(\thisrow{c}-\thisrow{o})/2,0.03)}] {\cD};
\addplot[brd=4.5bp] table[x=x, y expr={(\thisrow{o}+\thisrow{c})/2}, y error expr={max(abs(\thisrow{c}-\thisrow{o})/2,0.03)}] {\cD};
\rline
\ptag{66.17}{39.76}{tagolive}{39.76}
\ptag{66.17}{31.47}{tagred}{31.47}
\ptag{66.17}{30.64}{tagred}{30.64}
\ptag{66.17}{29.69}{tagred}{29.69}
\ptag{66.17}{28.8}{taggreen}{28.8}
\ptag{66.17}{27.91}{taggreen}{27.91}
\ptag{66.17}{27.08}{taggreen}{27.08}
\end{axis}
\begin{axis}[hb, up, pB, at={(1443bp,237bp)}, height=198bp, ymin=-23.9, ymax=17.2,
  ytick={-20,-15,...,15}, yticklabels={,-15,,-5,,5,,}]
\addplot[tyellow, line width=1.5bp] coordinates {(0,0)(64.3,0)};
\addplot[tteal, line width=1.5bp] table[x=x,y=t] {\hD};
\addplot[sm=hgreen, restrict x to domain=0:21] table[x=x,y=s] {\hD};
\addplot[sm=hgray, restrict x to domain=21:32] table[x=x,y=s] {\hD};
\addplot[sm=tred, restrict x to domain=32:36] table[x=x,y=s] {\hD};
\addplot[sm=hgray, restrict x to domain=36:38] table[x=x,y=s] {\hD};
\addplot[sm=tred, restrict x to domain=38:43] table[x=x,y=s] {\hD};
\addplot[sm=hgray, restrict x to domain=43:57] table[x=x,y=s] {\hD};
\addplot[sm=hgreen, restrict x to domain=57:64] table[x=x,y=s] {\hD};
\rline
\draw[tred,line width=1.2bp] (rel axis cs:1,1) -- ++(\sw,0pt);
\draw[tred,line width=1.2bp] (rel axis cs:1,0) -- ++(\sw,0pt);
\ptag{66.17}{0}{tagyellow}{0}
\ptag{66.17}{-20.74}{tagteal}{-20.74}
\end{axis}
\begin{axis}[hb, dn, pB, at={(1443bp,39bp)}, height=198bp, ymin=-5.59, ymax=6.84,
  ytick={-5,...,6}, yticklabels={,-4,,,-1,,,2,,,5,},
  minor xtick={1,6,11,16,20,25,30,40,45,50,55,60,65}]
\addplot[ycomb, cgreen, line width=2bp, restrict y to domain=0:100] table[x=x,y=d] {\hD};
\addplot[ycomb, tred, line width=2bp, restrict y to domain=-100:0] table[x=x,y=d] {\hD};
\addplot[tyellow, line width=1.5bp] coordinates {(0,0)(64.3,0)};
\rline
\draw[tred,line width=1.2bp] (rel axis cs:0,0) -- (rel axis cs:1,0) -- ++(\sw,0pt);
\draw[tred,line width=1bp] (axis cs:15,-5.59) -- ++(0pt,-10bp);
\draw[tred,line width=1bp] (axis cs:35,-5.59) -- ++(0pt,-10bp);
\draw[tred,line width=1bp] (axis cs:57,-5.59) -- ++(0pt,-10bp);
\ptag{66.17}{0}{tagyellow}{0}
\ptag{66.17}{-0.02}{tagred}{-0.02}
\end{axis}

% ================= titles =================
\node[anchor=west,inner sep=0pt,font=\lab] at (8bp,852bp) {\textcolor{tgreen}{\$IRX.X - Daily}\hspace{10bp}\textcolor{tred}{L=12.00\hspace{10bp}-0.03\hspace{10bp}-0.25\%\hspace{10bp}O=12.0 ...}};
\node[anchor=west,inner sep=0pt,font=\lab] at (487bp,852bp) {\textcolor{tgreen}{\$FVX.X - Daily\hspace{10bp}L=20.55\hspace{10bp}0.52\hspace{10bp}2.60\%\hspace{10bp}O=20. ...}};
\node[anchor=west,inner sep=0pt,font=\lab] at (966bp,852bp) {\textcolor{tgreen}{\$TNX.X - Daily\hspace{10bp}L=24.00\hspace{10bp}0.69\hspace{10bp}2.96\%\hspace{10bp}O=23\hspace{10bp}...}};
\node[anchor=west,inner sep=0pt,font=\lab] at (1445bp,852bp) {\textcolor{tgreen}{\$TYX.X - Daily\hspace{10bp}L=28.80\hspace{10bp}0.74\hspace{10bp}2.64\%\hspace{10bp}O=28. ...}};
\node[anchor=west,inner sep=0pt,font=\lab,text=white] at (8bp,422bp) {HAPI\_CI (10)\hspace{14bp}\textcolor{tteal}{9.99}\hspace{11bp}\textcolor{lgray}{6.44}\hspace{11bp}\textcolor{tyellow}{0.00}};
\node[anchor=west,inner sep=0pt,font=\lab,text=white] at (487bp,422bp) {HAPI\_CI (10)\hspace{14bp}\textcolor{tteal}{-4.14}\hspace{11bp}\textcolor{lgray}{-4.22}\hspace{11bp}\textcolor{tyellow}{0.00}};
\node[anchor=west,inner sep=0pt,font=\lab,text=white] at (966bp,422bp) {HAPI\_CI (10)\hspace{14bp}\textcolor{tteal}{-11.77}\hspace{11bp}\textcolor{tgreen}{-12.44}\hspace{11bp}\textcolor{tyellow}{0.00}};
\node[anchor=west,inner sep=0pt,font=\lab,text=white] at (1445bp,422bp) {HAPI\_CI (10)\hspace{14bp}\textcolor{tteal}{-20.74}\hspace{11bp}\textcolor{tgreen}{-20.72}\hspace{11bp}\textcolor{tyellow}{0.00}};
\node[anchor=west,inner sep=0pt,font=\lab,text=white] at (8bp,224bp) {HAPI\_CI\_Diff ()\hspace{14bp}\textcolor{tgreen}{3.55}\hspace{11bp}\textcolor{tyellow}{0.00}};
\node[anchor=west,inner sep=0pt,font=\lab,text=white] at (487bp,224bp) {HAPI\_CI\_Diff ()\hspace{14bp}\textcolor{tgreen}{0.09}\hspace{11bp}\textcolor{tyellow}{0.00}};
\node[anchor=west,inner sep=0pt,font=\lab,text=white] at (966bp,224bp) {HAPI\_CI\_Diff ()\hspace{14bp}\textcolor{tgreen}{0.66}\hspace{11bp}\textcolor{tyellow}{0.00}};
\node[anchor=west,inner sep=0pt,font=\lab,text=white] at (1445bp,224bp) {HAPI\_CI\_Diff ()\hspace{14bp}\textcolor{tred}{-0.02}\hspace{11bp}\textcolor{tyellow}{0.00}};
\end{tikzpicture}
\end{document}
